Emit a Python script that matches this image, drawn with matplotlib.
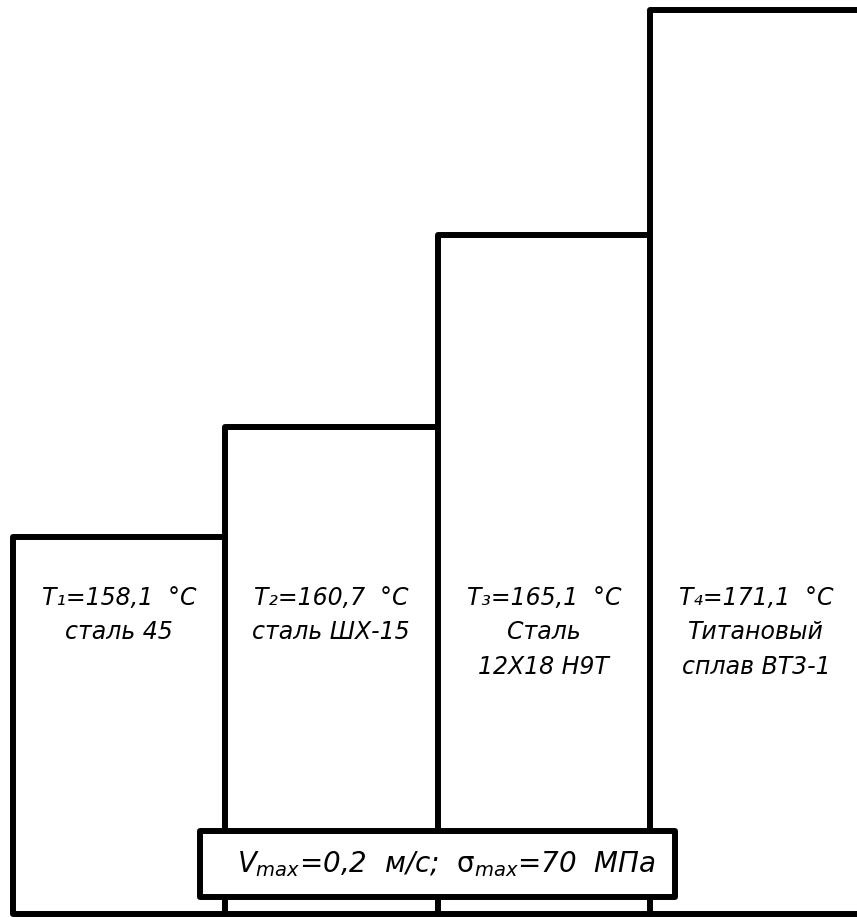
import matplotlib.pyplot as plt
from matplotlib.patches import Rectangle

plt.rcParams['font.family'] = ['DejaVu Sans']
plt.rcParams['mathtext.fontset'] = 'custom'
plt.rcParams['mathtext.rm'] = 'DejaVu Sans'
plt.rcParams['mathtext.it'] = 'DejaVu Sans:italic'

# -------------------------
# Data
# -------------------------
subs = ["₁", "₂", "₃", "₄"]
temps = ["158,1", "160,7", "165,1", "171,1"]
materials = ["сталь 45", "сталь ШХ-15", "Сталь\n12Х18 Н9Т", "Титановый\nсплав ВТ3-1"]
# relative bar heights, % of the tallest one
heights = [41.7, 53.9, 75.1, 100.0]

x = list(range(len(heights)))

fig = plt.figure(figsize=(8.57, 9.17), dpi=100)
ax = fig.add_axes([0, 0, 1, 1])

lw = 4.3
ax.bar(x, heights, width=1.0, align='edge', color='white',
       edgecolor='black', linewidth=lw, joinstyle='round', clip_on=False)

for i in x:
    label = "T" + subs[i] + "=" + temps[i] + "  °C\n" + materials[i]
    ax.text(i + 0.5, heights[0] - 5.4, label, ha='center', va='top',
            fontsize=17, style='italic', linespacing=1.55)

# bottom box with the test conditions
box = Rectangle((0.882, 1.88), 2.236, 7.3, facecolor='white',
                edgecolor='black', linewidth=lw, joinstyle='round', zorder=5)
ax.add_patch(box)
ax.text(2.04, 5.5,
        r"$V_{\mathit{max}}$=0,2  м/с;  $\mathrm{\sigma}_{\mathit{max}}$=70  МПа",
        ha='center', va='center', fontsize=20, style='italic', zorder=6)

ax.set_xlim(-0.059, 3.974)
ax.set_ylim(-0.33, 101.1)
ax.axis('off')

fig.savefig("out.png", dpi=100, facecolor='white')
